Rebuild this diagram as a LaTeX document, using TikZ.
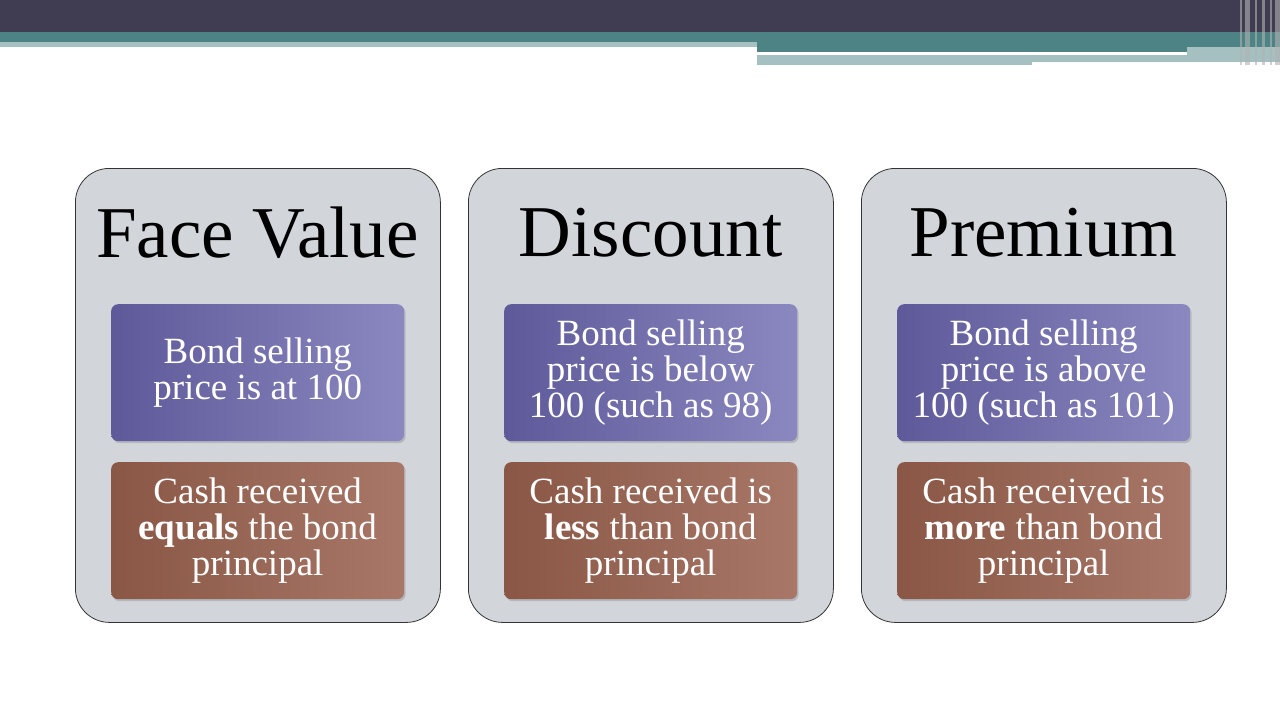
\documentclass[tikz,border=0pt]{standalone}
\usepackage{fontspec}
\setmainfont{Liberation Serif}
\usetikzlibrary{shadows}
\definecolor{dark}{HTML}{403D53}
\definecolor{teal}{HTML}{4D8385}
\definecolor{lteal}{HTML}{A5C0C0}
\definecolor{panel}{HTML}{D2D6DB}
\definecolor{pA}{HTML}{5E5A9A}
\definecolor{pB}{HTML}{8B87BF}
\definecolor{bA}{HTML}{8A5746}
\definecolor{bB}{HTML}{A87767}
\tikzset{
 panelbox/.style={draw=black!80,line width=0.8pt,fill=panel,rounded corners=34pt,minimum width=365pt,minimum height=454pt,anchor=north west,inner sep=0pt},
 title/.style={font=\fontsize{73}{80}\selectfont,anchor=center},
 purp/.style={rounded corners=7pt,minimum width=293pt,minimum height=137pt,anchor=north west,left color=pA,right color=pB,draw=none,drop shadow={opacity=0.35,shadow xshift=1.5pt,shadow yshift=-2pt},text=white,align=center,font=\fontsize{37}{36}\selectfont,inner sep=0pt},
 brown/.style={purp,left color=bA,right color=bB},
}
\begin{document}
\begin{tikzpicture}[x=1pt,y=-1pt]
\useasboundingbox (0,0) rectangle (1280,720);
\fill[white] (0,0) rectangle (1280,720);
\fill[dark] (0,0) rectangle (1280,32);
\fill[teal] (0,32) rectangle (1280,42);
\fill[lteal] (0,42) rectangle (757,47);
\fill[teal] (757,42) rectangle (1280,52);
\fill[lteal] (757,55) rectangle (1032,65);
\fill[lteal] (1032,55) rectangle (1200,62);
\fill[lteal] (1187,47) rectangle (1280,62);
\foreach \x/\w in {1240/2,1245/5,1255/2,1262/3,1270/2,1275/5}
  \fill[black!30,opacity=0.6] (\x,0) rectangle (\x+\w,65);
\foreach \i/\px/\ttl/\ta/\tb in {1/75/Face Value/{Bond selling\\price is at 100}/{Cash received\\\textbf{equals} the bond\\principal},
  2/468/Discount/{Bond selling\\price is below\\100 (such as 98)}/{Cash received is\\\textbf{less} than bond\\principal},
  3/861/Premium/{Bond selling\\price is above\\100 (such as 101)}/{Cash received is\\\textbf{more} than bond\\principal}}{
  \node[panelbox] (p\i) at (\px,168) {};
  \node[title] (t\i) at (\px+182.5,233) {\ttl};
  \node[purp] (a\i) at (\px+36,304) {\ta};
  \node[brown] (b\i) at (\px+36,462) {\tb};
}
\end{tikzpicture}
\end{document}
